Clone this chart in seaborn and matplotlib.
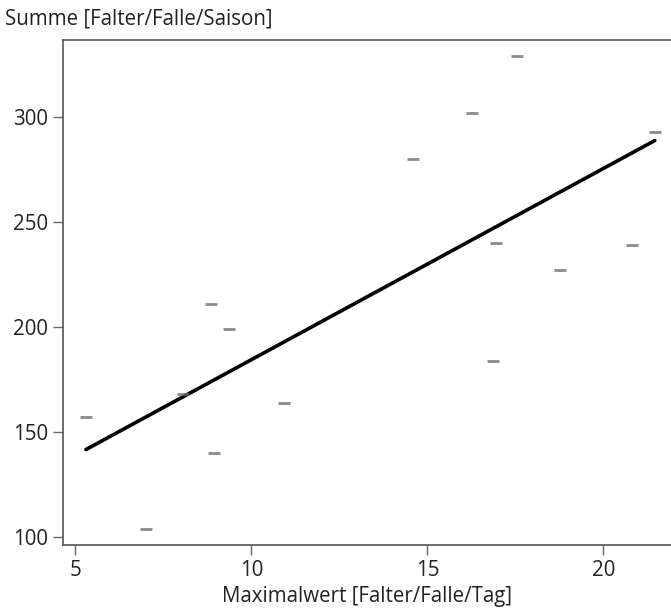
import matplotlib
matplotlib.use("Agg")
import matplotlib.pyplot as plt
import seaborn as sns
import pandas as pd

x_max = [5.3, 7.0, 8.05, 8.85, 8.93, 9.36, 10.92, 14.59, 16.26, 16.94, 16.86, 18.76, 20.81, 21.46, 17.55]
y_sum = [157, 104, 168, 211, 140, 199, 164, 280, 302, 240, 184, 227, 239, 293, 329]
x_ticks = [5, 10, 15, 20]
y_ticks = [100, 150, 200, 250, 300]
x_label = "Maximalwert [Falter/Falle/Tag]"
y_label = "Summe [Falter/Falle/Saison]"

df = pd.DataFrame({"x": x_max, "y": y_sum})

sns.set_theme(style="white")
plt.rcParams["font.family"] = ["Open Sans", "DejaVu Sans"]

FS = 14.8
fig = plt.figure(figsize=(6.71, 6.16), dpi=100)
ax = fig.add_axes([63 / 671, 71 / 616, 1 - 63 / 671, (545 - 40) / 616])

sns.regplot(data=df, x="x", y="y", ax=ax, ci=None,
            marker="_",
            scatter_kws=dict(color="#6e6e6e", s=64, linewidths=2.0, zorder=3),
            line_kws=dict(color="black", lw=2.6, zorder=2))

ax.set_xlim(4.65, 21.92)
ax.set_ylim(96.2, 336.7)
ax.set_xticks(x_ticks)
ax.set_yticks(y_ticks)
ax.set_xlabel(x_label, fontsize=FS, color="#222222", labelpad=4)
ax.set_ylabel("")
fig.text(5 / 671, 1 - 19 / 616, y_label, fontsize=FS, color="#222222",
         ha="left", va="center")

for side in ["left", "top", "bottom"]:
    ax.spines[side].set_visible(True)
    ax.spines[side].set_color("#555555")
    ax.spines[side].set_linewidth(1.2)
ax.spines["right"].set_visible(False)

ax.tick_params(axis="both", which="major", direction="out", length=7.5, width=1.0,
               color="#666666", labelsize=FS, labelcolor="#222222",
               left=True, bottom=True, pad=3)

fig.savefig("out.png", dpi=100)
